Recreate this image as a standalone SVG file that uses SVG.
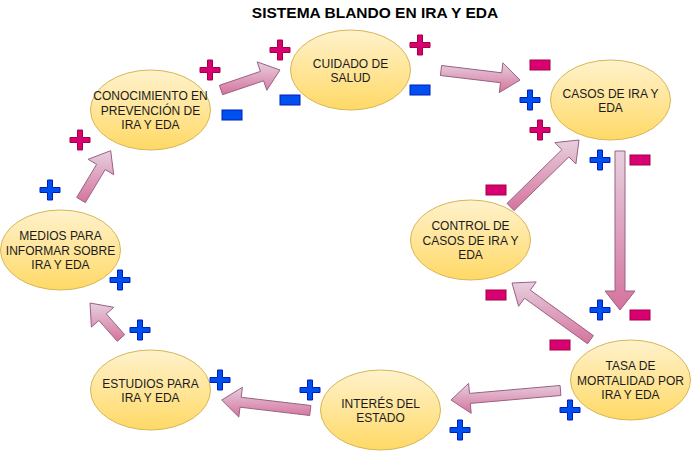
<svg xmlns="http://www.w3.org/2000/svg" xmlns:xlink="http://www.w3.org/1999/xlink" width="691" height="451" viewBox="0 0 691 451">
<style>
.node ellipse{fill:url(#yel);stroke:#d6b656;stroke-width:1}
.node text{font-family:"Liberation Sans",Arial,sans-serif;font-size:12px;fill:#1a1a1a;text-anchor:middle}
.arrow{fill:url(#pink);stroke:#996185;stroke-width:1;stroke-linejoin:miter}
.pm{stroke-width:1}
.mag{fill:#d80073;stroke:#a50040}
.blu{fill:#0050ef;stroke:#001dbc}
.title{font-family:"Liberation Sans",Arial,sans-serif;font-size:15.5px;font-weight:bold;fill:#000;text-anchor:middle}
</style>
<defs>
<linearGradient id="yel" x1="0" y1="0" x2="0" y2="1"><stop offset="0" stop-color="#fff2cc"/><stop offset="1" stop-color="#ffd966"/></linearGradient>
<linearGradient id="pink" x1="0" y1="0" x2="0" y2="1"><stop offset="0" stop-color="#e6d0de"/><stop offset="1" stop-color="#d5739d"/></linearGradient>
<path id="plus" d="M7.5,0H12.5V7.5H20V12.5H12.5V20H7.5V12.5H0V7.5H7.5Z"/>
<rect id="minus" width="20" height="10"/>
</defs>
<rect width="691" height="451" fill="#fff"/>
<text class="title" x="375" y="17.5">SISTEMA BLANDO EN IRA Y EDA</text>

<g id="connectors">
<polygon class="arrow" points="222.6,94.7 263.6,80.8 266.8,90.3 280,70 257.2,61.9 260.4,71.4 219.4,85.3"/>
<polygon class="arrow" points="440.4,75.5 500.5,82.7 499.3,92.6 520,80 502.9,62.8 501.7,72.8 441.6,65.5"/>
<polygon class="arrow" points="615,151 615,291 605,291 620,310 635,291 625,291 625,151"/>
<polygon class="arrow" points="593.4,335.6 530.3,290.1 536.2,281.9 512,283 518.6,306.3 524.5,298.2 587.6,343.8"/>
<polygon class="arrow" points="514.0,210.6 568.9,156.9 575.9,164.0 579,140 554.9,142.6 561.9,149.7 507.0,203.4"/>
<polygon class="arrow" points="560.1,385.5 469.5,393.4 468.6,383.4 451,400 471.2,413.3 470.3,403.4 560.9,395.5"/>
<polygon class="arrow" points="310.9,405.5 241.2,397.3 242.4,387.3 221.7,400 238.8,417.1 240.0,407.2 309.7,415.5"/>
<polygon class="arrow" points="124.7,334.7 106.3,313.9 113.8,307.3 90,303 91.4,327.1 98.9,320.5 117.3,341.3"/>
<polygon class="arrow" points="85.3,202.6 105.2,169.6 113.7,174.7 110.7,150.7 88.1,159.3 96.6,164.4 76.7,197.4"/>
</g>

<g id="node-conocimiento" class="node">
<ellipse cx="150.5" cy="110" rx="60" ry="40"/>
<text x="150.5" y="100">CONOCIMIENTO EN</text>
<text x="150.5" y="114.5">PREVENCIÓN DE</text>
<text x="150.5" y="129">IRA Y EDA</text>
</g>
<g id="node-cuidado" class="node">
<ellipse cx="350.5" cy="70" rx="60" ry="40"/>
<text x="350.5" y="67.5">CUIDADO DE</text>
<text x="350.5" y="82">SALUD</text>
</g>
<g id="node-casos" class="node">
<ellipse cx="610.5" cy="100" rx="60" ry="40"/>
<text x="610.5" y="97.5">CASOS DE IRA Y</text>
<text x="610.5" y="112">EDA</text>
</g>
<g id="node-control" class="node">
<ellipse cx="470.5" cy="240" rx="60" ry="40"/>
<text x="470.5" y="230">CONTROL DE</text>
<text x="470.5" y="244.5">CASOS DE IRA Y</text>
<text x="470.5" y="259">EDA</text>
</g>
<g id="node-tasa" class="node">
<ellipse cx="630.5" cy="380" rx="60" ry="40"/>
<text x="630.5" y="370">TASA DE</text>
<text x="630.5" y="384.5">MORTALIDAD POR</text>
<text x="630.5" y="399">IRA Y EDA</text>
</g>
<g id="node-interes" class="node">
<ellipse cx="380.5" cy="410" rx="60" ry="40"/>
<text x="380.5" y="407.5">INTERÉS DEL</text>
<text x="380.5" y="422">ESTADO</text>
</g>
<g id="node-estudios" class="node">
<ellipse cx="150.5" cy="390" rx="60" ry="40"/>
<text x="150.5" y="387.5">ESTUDIOS PARA</text>
<text x="150.5" y="402">IRA Y EDA</text>
</g>
<g id="node-medios" class="node">
<ellipse cx="60.5" cy="250" rx="60" ry="40"/>
<text x="60.5" y="240">MEDIOS PARA</text>
<text x="60.5" y="254.5">INFORMAR SOBRE</text>
<text x="60.5" y="269">IRA Y EDA</text>
</g>

<g id="signs">
<use xlink:href="#plus" class="pm mag" x="200" y="60"/>
<use xlink:href="#plus" class="pm mag" x="270" y="40"/>
<use xlink:href="#plus" class="pm mag" x="410" y="35"/>
<use xlink:href="#plus" class="pm mag" x="530" y="120"/>
<use xlink:href="#plus" class="pm mag" x="70" y="130"/>
<use xlink:href="#plus" class="pm blu" x="520" y="90"/>
<use xlink:href="#plus" class="pm blu" x="590" y="150"/>
<use xlink:href="#plus" class="pm blu" x="590" y="300"/>
<use xlink:href="#plus" class="pm blu" x="560" y="400"/>
<use xlink:href="#plus" class="pm blu" x="450" y="420"/>
<use xlink:href="#plus" class="pm blu" x="300" y="380"/>
<use xlink:href="#plus" class="pm blu" x="210" y="370"/>
<use xlink:href="#plus" class="pm blu" x="130" y="320"/>
<use xlink:href="#plus" class="pm blu" x="110" y="270"/>
<use xlink:href="#plus" class="pm blu" x="40" y="180"/>
<use xlink:href="#minus" class="pm mag" x="530" y="60"/>
<use xlink:href="#minus" class="pm mag" x="630" y="155"/>
<use xlink:href="#minus" class="pm mag" x="630" y="310"/>
<use xlink:href="#minus" class="pm mag" x="486" y="185"/>
<use xlink:href="#minus" class="pm mag" x="486" y="290"/>
<use xlink:href="#minus" class="pm mag" x="550" y="340"/>
<use xlink:href="#minus" class="pm blu" x="222" y="110"/>
<use xlink:href="#minus" class="pm blu" x="280" y="95"/>
<use xlink:href="#minus" class="pm blu" x="410" y="85"/>
</g>
</svg>
